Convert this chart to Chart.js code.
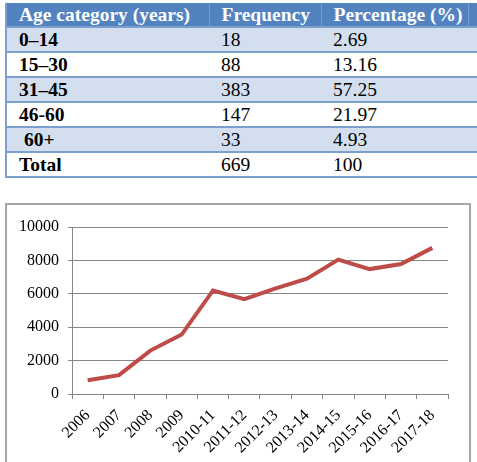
<!DOCTYPE html>
<html>
<head>
<meta charset="utf-8">
<script src="https://cdn.jsdelivr.net/npm/chart.js@4"></script>
<style>
html, body { margin: 0; padding: 0; overflow: hidden; background: #fff; }
body { width: 477px; height: 462px; position: relative; font-family: 'Liberation Serif', serif; }
#tbl { position: absolute; left: 5px; top: 3px; border-collapse: collapse; table-layout: fixed; width: 480px; font-size: 19.5px; font-family: 'Liberation Serif', serif; }
#tbl td, #tbl th { height: 23px; line-height: 22px; padding: 0 0 0 12px; text-align: left; border-bottom: 2px solid #7ba0cd; white-space: nowrap; }
#tbl th { background: #5382c0; color: #fff; font-weight: bold; border-right: 1px solid #7ba0cd; }
#tbl tr.band td { background: #d3dfee; }
#tbl td.b { font-weight: bold; }
#tbl tr td:first-child, #tbl tr th:first-child { border-left: 2px solid #7ba0cd; }
#frame { position: absolute; left: 5px; top: 203px; width: 462px; height: 300px; border: 2px solid #a6a6a6; }
#frame canvas { position: absolute; left: 0; top: 0; }
</style>
</head>
<body>
<table id="tbl"></table>
<div id="frame"><canvas id="myChart" width="462" height="257"></canvas></div>
<script>
// table data
var tableHeader = ['Age category (years)', 'Frequency', 'Percentage (%)'];
var ageGroups = ['0–14', '15–30', '31–45', '46-60', ' 60+', 'Total'];
var frequency = ['18', '88', '383', '147', '33', '669'];
var percentage = ['2.69', '13.16', '57.25', '21.97', '4.93', '100'];

// chart data
var years = ['2006', '2007', '2008', '2009', '2010-11', '2011-12', '2012-13', '2013-14', '2014-15', '2015-16', '2016-17', '2017-18'];
var counts = [820, 1130, 2600, 3560, 6200, 5680, 6330, 6900, 8050, 7480, 7780, 8750];
var yTicks = [0, 2000, 4000, 6000, 8000, 10000];

function buildTable() {
    var html = '<colgroup><col style="width:203px"><col style="width:112px"><col style="width:147px"><col style="width:18px"></colgroup>';
    html += '<tr>';
    for (var i = 0; i < tableHeader.length; i++) {
        html += '<th>' + tableHeader[i] + '</th>';
    }
    html += '<th></th></tr>';
    for (var r = 0; r < ageGroups.length; r++) {
        html += '<tr' + (r % 2 == 0 ? ' class="band"' : '') + '>';
        html += '<td class="b" style="white-space:pre">' + ageGroups[r] + '</td>';
        html += '<td>' + frequency[r] + '</td>';
        html += '<td>' + percentage[r] + '</td>';
        html += '<td></td></tr>';
    }
    document.getElementById('tbl').innerHTML = html;
}

function line_initial() {
    var gridColor = '#868686';
    Chart.defaults.font.family = 'Liberation Serif';
    var data = {
        labels: years,
        datasets: [{
            data: counts,
            borderColor: '#be4b48',
            borderWidth: 4,
            pointRadius: 0,
            tension: 0,
            fill: false
        }]
    };

    var config = {
        type: 'line',
        data: data,
        options: {
            responsive: false,
            animation: false,
            layout: { padding: { left: 8, right: 21, top: 22, bottom: 0 } },
            plugins: { legend: { display: false }, tooltip: { enabled: false } },
            scales: {
                x: {
                    offset: true,
                    afterFit: function (scale) { scale.height = 68; },
                    grid: { offset: true, drawOnChartArea: false, drawTicks: true, tickLength: 5, color: gridColor },
                    border: { display: true, color: gridColor, width: 1 },
                    ticks: {
                        color: '#000',
                        font: { family: 'Liberation Serif', size: 16 },
                        minRotation: 45,
                        maxRotation: 45,
                        autoSkip: false,
                        padding: 7
                    }
                },
                y: {
                    min: 0,
                    max: 10000,
                    afterFit: function (scale) { scale.width = 57; },
                    afterBuildTicks: function (scale) {
                        scale.ticks = yTicks.map(function (v) { return { value: v }; });
                    },
                    grid: { color: gridColor, lineWidth: 1, drawTicks: true, tickLength: 4 },
                    border: { display: true, color: gridColor, width: 1 },
                    ticks: {
                        color: '#000',
                        font: { family: 'Liberation Serif', size: 16 },
                        padding: 9,
                        callback: function (v) { return String(v); }
                    }
                }
            }
        }
    };
    return new Chart(document.getElementById('myChart'), config);
}

buildTable();
var myChart = line_initial();
</script>
</body>
</html>
